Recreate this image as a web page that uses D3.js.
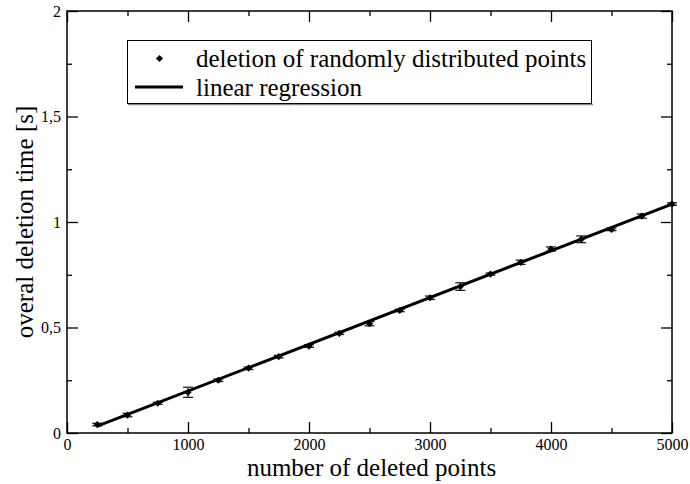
<!DOCTYPE html>
<html>
<head>
<meta charset="utf-8">
<script src="https://cdn.jsdelivr.net/npm/d3@7"></script>
<style>
  html, body { margin: 0; padding: 0; background: #fff; }
  svg { display: block; }
  svg text { font-family: "Liberation Serif", "Times New Roman", serif !important; fill: #000; }
</style>
</head>
<body>
<svg id="chart" width="690" height="484"></svg>
<script>
// ---- data ----
const pointsDeleted = [250, 500, 750, 1000, 1250, 1500, 1750, 2000, 2250, 2500,
                       2750, 3000, 3250, 3500, 3750, 4000, 4250, 4500, 4750, 5000];
const deletionTime = [0.040, 0.085, 0.141, 0.193, 0.250, 0.307, 0.362, 0.412, 0.472, 0.518,
                      0.581, 0.641, 0.694, 0.753, 0.809, 0.872, 0.918, 0.965, 1.028, 1.085];
const timeError = [0.006, 0.008, 0.005, 0.024, 0.006, 0.006, 0.006, 0.006, 0.005, 0.010,
                   0.006, 0.008, 0.018, 0.005, 0.010, 0.010, 0.016, 0.006, 0.010, 0.006];
const regressionSlope = 0.0002215;
const regressionIntercept = -0.0225;
const xMajorTicks = [0, 1000, 2000, 3000, 4000, 5000];
const xMinorTicks = [500, 1500, 2500, 3500, 4500];
const yMajorTicks = [0, 0.5, 1, 1.5, 2];
const yMinorTicks = [0.25, 0.75, 1.25, 1.75];
const legendLabels = ["deletion of randomly distributed points", "linear regression"];
const xTitle = "number of deleted points";
const yTitle = "overal deletion time [s]";

// ---- layout ----
const FONT = '"Liberation Serif", "Times New Roman", serif';
const svg = d3.select("#chart");
const L = 67, R = 672, T = 11, B = 433;
const x = d3.scaleLinear().domain([0, 5000]).range([L, R]);
const y = d3.scaleLinear().domain([0, 2]).range([B, T]);
const fmtY = d => (d === 0 ? "0" : String(d).replace(".", ","));

// frame
svg.append("rect").attr("x", L).attr("y", T).attr("width", R - L).attr("height", B - T)
  .attr("fill", "none").attr("stroke", "#000").attr("stroke-width", 1.5);

function styleAxis(g) {
  g.attr("font-family", FONT);
  g.select(".domain").remove();
  g.selectAll(".tick line").attr("stroke", "#000").attr("stroke-width", 1.3);
  g.selectAll(".tick text").style("font-size", "16px").style("font-family", FONT);
}

// bottom
svg.append("g").attr("transform", `translate(0,${B})`)
  .call(d3.axisBottom(x).tickValues(xMajorTicks).tickSize(-11).tickPadding(6).tickFormat(d3.format("d")))
  .call(styleAxis);
svg.append("g").attr("transform", `translate(0,${B})`)
  .call(d3.axisBottom(x).tickValues(xMinorTicks).tickSize(-5).tickFormat(""))
  .call(styleAxis);
// top
svg.append("g").attr("transform", `translate(0,${T})`)
  .call(d3.axisTop(x).tickValues(xMajorTicks).tickSize(-11).tickFormat(""))
  .call(styleAxis);
svg.append("g").attr("transform", `translate(0,${T})`)
  .call(d3.axisTop(x).tickValues(xMinorTicks).tickSize(-5).tickFormat(""))
  .call(styleAxis);
// left
svg.append("g").attr("transform", `translate(${L},0)`)
  .call(d3.axisLeft(y).tickValues(yMajorTicks).tickSize(-11).tickPadding(6).tickFormat(fmtY))
  .call(styleAxis);
svg.append("g").attr("transform", `translate(${L},0)`)
  .call(d3.axisLeft(y).tickValues(yMinorTicks).tickSize(-5).tickFormat(""))
  .call(styleAxis);
// right
svg.append("g").attr("transform", `translate(${R},0)`)
  .call(d3.axisRight(y).tickValues(yMajorTicks).tickSize(-11).tickFormat(""))
  .call(styleAxis);
svg.append("g").attr("transform", `translate(${R},0)`)
  .call(d3.axisRight(y).tickValues(yMinorTicks).tickSize(-5).tickFormat(""))
  .call(styleAxis);

// titles
svg.append("text").attr("x", (L + R) / 2 + 2).attr("y", 476)
  .attr("text-anchor", "middle").style("font-family", FONT).style("font-size", "25px").text(xTitle);
svg.append("text").attr("transform", `translate(33,${(T + B) / 2}) rotate(-90)`)
  .attr("text-anchor", "middle").style("font-family", FONT).style("font-size", "25px").text(yTitle);

// data
const data = pointsDeleted.map((p, i) => ({ x: p, y: deletionTime[i], e: timeError[i] }));

// error bars
const eb = svg.append("g").attr("class", "errorbars");
data.forEach(d => {
  const cx = x(d.x), y1 = y(d.y + d.e), y2 = y(d.y - d.e);
  eb.append("line").attr("x1", cx).attr("x2", cx).attr("y1", y1).attr("y2", y2)
    .attr("stroke", "#000").attr("stroke-width", 1);
  [y1, y2].forEach(yy => eb.append("line").attr("x1", cx - 5).attr("x2", cx + 5)
    .attr("y1", yy).attr("y2", yy).attr("stroke", "#222").attr("stroke-width", 1.3));
});

// regression line
const xr = d3.extent(pointsDeleted);
svg.append("path")
  .datum(xr.map(v => ({ x: v, y: regressionIntercept + regressionSlope * v })))
  .attr("d", d3.line().x(d => x(d.x)).y(d => y(d.y)))
  .attr("fill", "none").attr("stroke", "#000").attr("stroke-width", 3);

// markers (square rotated 45deg = diamond)
const diamond = d3.symbol().type(d3.symbolSquare).size(26);
svg.append("g").selectAll("path").data(data).join("path")
  .attr("transform", d => `translate(${x(d.x)},${y(d.y)}) rotate(45)`)
  .attr("d", diamond).attr("fill", "#000");

// legend
const lg = svg.append("g");
lg.append("line").attr("x1", 128).attr("x2", 593).attr("y1", 104.5).attr("y2", 104.5)
  .attr("stroke", "#888").attr("stroke-width", 1.5);
lg.append("rect").attr("x", 127.5).attr("y", 40.5).attr("width", 464).attr("height", 63)
  .attr("fill", "#fff").attr("stroke", "#000").attr("stroke-width", 1);
lg.append("path").attr("transform", "translate(159.5,58.5) rotate(45)").attr("d", diamond).attr("fill", "#000");
lg.append("line").attr("x1", 135).attr("x2", 183).attr("y1", 87).attr("y2", 87)
  .attr("stroke", "#000").attr("stroke-width", 3);
lg.append("text").attr("x", 196).attr("y", 66.5).style("font-family", FONT).style("font-size", "25px").text(legendLabels[0]);
lg.append("text").attr("x", 196).attr("y", 95.5).style("font-family", FONT).style("font-size", "25px").text(legendLabels[1]);
</script>
</body>
</html>
